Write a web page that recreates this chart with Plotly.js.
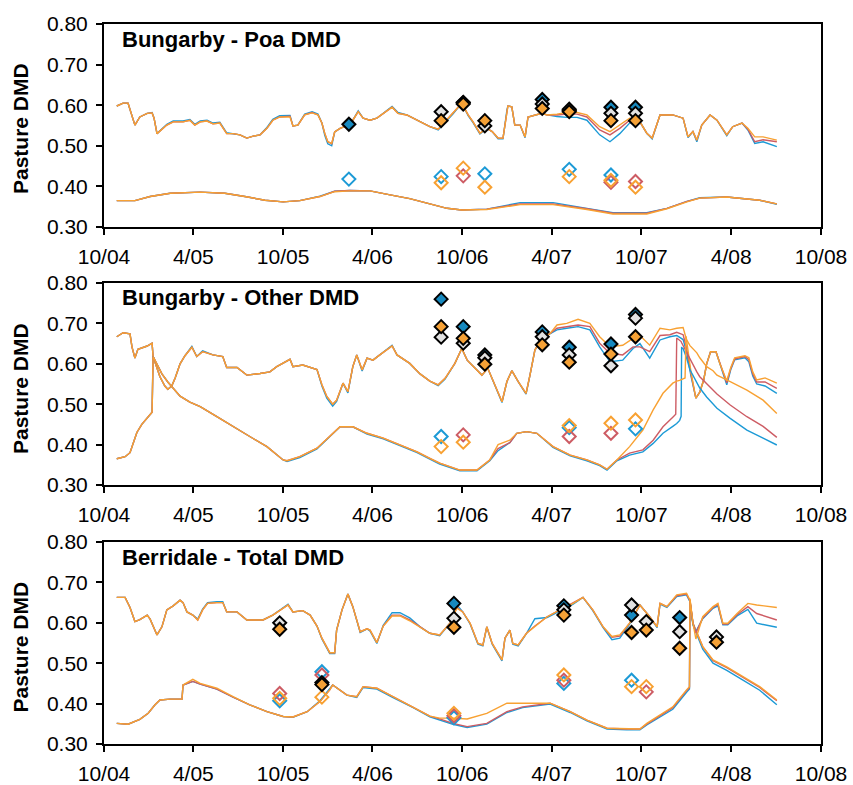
<!DOCTYPE html>
<html>
<head>
<meta charset="utf-8">
<script src="https://cdn.plot.ly/plotly-3.0.1.min.js"></script>
<style>
html,body{margin:0;padding:0;background:#fff;}
#chart{width:853px;height:785px;}
</style>
</head>
<body>
<div id="chart"></div>
<script>
// ---------- axis ticks ----------
const tickVals = ['2004-10-01','2005-04-01','2005-10-01','2006-04-01','2006-10-01','2007-04-01','2007-10-01','2008-04-01','2008-10-01'];
const tickText = ['10/04','4/05','10/05','4/06','10/06','4/07','10/07','4/08','10/08'];
const panelTitles = ['Bungarby - Poa DMD','Bungarby - Other DMD','Berridale - Total DMD'];
const yTitle = 'Pasture DMD';

// ---------- Panel 1 : Bungarby - Poa, upper band ----------
const p1UpDates = ['2004-10-27','2004-11-09','2004-11-19','2004-11-27','2004-12-03','2004-12-13','2004-12-28','2005-01-07','2005-01-11','2005-01-17',
'2005-01-29','2005-02-06','2005-02-19','2005-03-11','2005-03-25','2005-04-04','2005-04-15','2005-04-29','2005-05-11','2005-05-25',
'2005-06-08','2005-06-21','2005-07-05','2005-07-19','2005-08-01','2005-08-15','2005-08-29','2005-09-10','2005-09-24','2005-10-15',
'2005-10-21','2005-10-31','2005-11-14','2005-11-29','2005-12-11','2005-12-19','2005-12-25','2005-12-31','2006-01-08','2006-01-14',
'2006-01-25','2006-02-10','2006-02-20','2006-03-03','2006-03-13','2006-03-27','2006-04-10','2006-04-23','2006-05-11','2006-05-23',
'2006-06-10','2006-07-01','2006-07-27','2006-08-13','2006-09-12','2006-09-30','2006-10-13','2006-10-23','2006-11-06','2006-11-20',
'2006-12-01','2006-12-13','2006-12-23','2006-12-31','2007-01-02','2007-01-10','2007-01-16','2007-01-27','2007-02-06','2007-02-12',
'2007-02-26','2007-03-12','2007-03-23','2007-04-12','2007-05-02','2007-05-23','2007-06-12','2007-07-08','2007-07-29','2007-08-18',
'2007-09-07','2007-09-28','2007-10-12','2007-10-23','2007-11-08','2007-12-04','2007-12-25','2008-01-04','2008-01-14','2008-01-22',
'2008-02-01','2008-02-18','2008-03-03','2008-03-23','2008-04-04','2008-04-23','2008-05-05','2008-05-19','2008-06-05','2008-07-03'];
const p1UpOrange = [0.598,0.605,0.605,0.576,0.551,0.571,0.580,0.581,0.568,0.530,
0.543,0.551,0.559,0.559,0.563,0.551,0.559,0.561,0.554,0.556,
0.530,0.530,0.527,0.519,0.524,0.527,0.543,0.563,0.571,0.571,
0.549,0.551,0.576,0.581,0.576,0.556,0.530,0.510,0.506,0.534,
0.543,0.551,0.563,0.584,0.568,0.563,0.568,0.580,0.595,0.580,
0.576,0.563,0.547,0.541,0.580,0.605,0.576,0.559,0.531,0.543,
0.535,0.519,0.519,0.588,0.598,0.596,0.551,0.551,0.522,0.571,
0.576,0.580,0.576,0.578,0.582,0.582,0.576,0.547,0.535,0.551,
0.568,0.559,0.531,0.519,0.576,0.576,0.568,0.522,0.535,0.514,
0.551,0.576,0.563,0.527,0.547,0.556,0.543,0.522,0.522,0.514];
const p1UpRed = [0.598,0.605,0.605,0.576,0.551,0.571,0.580,0.581,0.568,0.530,
0.543,0.551,0.559,0.559,0.563,0.551,0.559,0.561,0.554,0.556,
0.530,0.530,0.527,0.519,0.524,0.527,0.543,0.563,0.571,0.573,
0.549,0.551,0.576,0.582,0.576,0.556,0.530,0.510,0.505,0.534,
0.543,0.551,0.563,0.584,0.568,0.563,0.568,0.580,0.595,0.580,
0.576,0.563,0.547,0.541,0.580,0.605,0.576,0.559,0.531,0.543,
0.535,0.519,0.519,0.588,0.598,0.596,0.551,0.551,0.522,0.571,
0.576,0.580,0.576,0.576,0.578,0.578,0.571,0.539,0.527,0.543,
0.563,0.559,0.531,0.519,0.576,0.576,0.568,0.522,0.535,0.514,
0.551,0.576,0.563,0.527,0.547,0.556,0.541,0.510,0.515,0.510];
const p1UpBlue = [0.598,0.605,0.605,0.576,0.551,0.571,0.580,0.582,0.568,0.530,
0.543,0.553,0.561,0.561,0.565,0.553,0.561,0.563,0.556,0.558,
0.532,0.530,0.527,0.519,0.524,0.527,0.545,0.565,0.574,0.575,
0.549,0.551,0.578,0.584,0.578,0.556,0.525,0.505,0.500,0.534,
0.543,0.551,0.563,0.586,0.568,0.563,0.568,0.580,0.597,0.582,
0.576,0.563,0.547,0.539,0.578,0.605,0.574,0.557,0.529,0.543,
0.535,0.517,0.517,0.588,0.598,0.596,0.551,0.551,0.520,0.571,
0.576,0.580,0.576,0.572,0.570,0.570,0.563,0.527,0.510,0.530,
0.556,0.559,0.531,0.517,0.576,0.576,0.568,0.520,0.535,0.510,
0.551,0.576,0.563,0.525,0.547,0.556,0.539,0.506,0.510,0.498];

// ---------- Panel 1 : lower band ----------
const p1LowDates = ['2004-10-27','2004-12-03','2005-01-03','2005-02-13','2005-04-15','2005-06-04','2005-07-15','2005-08-25','2005-10-01','2005-11-04',
'2005-12-15','2006-01-14','2006-02-14','2006-03-27','2006-05-07','2006-06-16','2006-07-27','2006-08-31','2006-09-30','2006-11-20',
'2007-01-27','2007-04-04','2007-06-12','2007-08-04','2007-10-12','2007-11-22','2008-01-02','2008-01-28','2008-03-23','2008-04-19',
'2008-05-29','2008-07-03'];
const p1LowOrange = [0.365,0.365,0.375,0.383,0.386,0.383,0.375,0.366,0.362,0.365,
0.375,0.387,0.389,0.389,0.379,0.370,0.357,0.346,0.342,0.343,
0.355,0.355,0.343,0.332,0.332,0.345,0.362,0.371,0.374,0.371,
0.366,0.357];
const p1LowRed = [0.365,0.365,0.375,0.383,0.386,0.383,0.375,0.366,0.362,0.365,
0.375,0.388,0.390,0.389,0.379,0.370,0.357,0.346,0.342,0.344,
0.357,0.357,0.345,0.334,0.334,0.346,0.363,0.371,0.374,0.371,
0.366,0.357];
const p1LowBlue = [0.365,0.365,0.375,0.383,0.386,0.383,0.375,0.366,0.362,0.365,
0.376,0.388,0.390,0.389,0.379,0.370,0.357,0.346,0.342,0.344,
0.360,0.360,0.346,0.335,0.335,0.346,0.363,0.372,0.374,0.371,
0.366,0.356];

// ---------- Panel 1 : observations ----------
const p1ObsDates = ['2006-02-12','2006-08-19','2006-10-03','2006-11-16','2007-03-13','2007-05-07','2007-07-31','2007-09-19'];
const p1FillBlue   = [0.553,null,0.606,null,0.614,0.587,0.595,0.595];
const p1FillGrey   = [null,0.584,0.607,0.549,0.603,0.590,0.580,0.580];
const p1FillOrange = [null,0.562,0.603,0.562,0.592,0.584,0.562,0.562];
const p1OpenBlue   = [0.418,0.424,null,0.431,null,0.442,0.428,null];
const p1OpenRed    = [null,null,0.426,null,null,null,0.410,0.412];
const p1OpenOrange = [null,0.409,0.445,0.398,null,0.424,0.415,0.398];

// ---------- Panel 2 : Bungarby - Other, upper band ----------
const p2UpDates = ['2004-10-27','2004-11-09','2004-11-23','2004-11-27','2004-12-03','2004-12-09','2004-12-28','2005-01-07','2005-01-09','2005-01-15',
'2005-01-23','2005-02-02','2005-02-08','2005-02-16','2005-02-23','2005-03-05','2005-03-15','2005-03-29','2005-04-08','2005-04-20',
'2005-05-11','2005-05-31','2005-06-08','2005-06-29','2005-07-19','2005-08-15','2005-09-04','2005-09-18','2005-10-15','2005-10-21',
'2005-11-10','2005-12-09','2005-12-19','2005-12-29','2006-01-10','2006-01-18','2006-01-31','2006-02-10','2006-02-20','2006-02-28',
'2006-03-11','2006-03-21','2006-04-02','2006-04-16','2006-05-11','2006-05-21','2006-06-16','2006-07-07','2006-07-27','2006-08-13',
'2006-08-27','2006-09-16','2006-09-30','2006-10-11','2006-10-27','2006-11-10','2006-11-22','2006-12-21','2006-12-31','2007-01-10',
'2007-01-23','2007-02-08','2007-02-16','2007-02-26','2007-03-12','2007-03-29','2007-04-12','2007-05-02','2007-05-25','2007-06-18',
'2007-07-08','2007-07-29','2007-08-24','2007-09-14','2007-09-28','2007-10-18','2007-11-08','2007-11-28','2007-12-12','2007-12-25',
'2008-01-01','2008-01-10','2008-01-20','2008-01-28','2008-02-05','2008-02-11','2008-02-19','2008-03-01','2008-03-09','2008-03-17',
'2008-03-23','2008-03-31','2008-04-08','2008-04-29','2008-05-07','2008-05-15','2008-05-23','2008-06-09','2008-07-03'];
const p2UpOrange = [0.667,0.677,0.674,0.642,0.614,0.636,0.644,0.651,0.618,0.594,
0.568,0.545,0.537,0.545,0.565,0.600,0.620,0.641,0.618,0.630,
0.622,0.618,0.591,0.591,0.572,0.576,0.580,0.593,0.611,0.593,
0.597,0.586,0.548,0.519,0.500,0.510,0.552,0.531,0.593,0.622,
0.585,0.614,0.609,0.622,0.644,0.622,0.601,0.575,0.557,0.548,
0.564,0.601,0.638,0.609,0.589,0.572,0.589,0.506,0.556,0.583,
0.556,0.527,0.572,0.634,0.663,0.675,0.696,0.700,0.710,0.700,
0.667,0.642,0.646,0.663,0.670,0.646,0.688,0.684,0.688,0.690,
0.659,0.580,0.515,0.530,0.560,0.600,0.630,0.630,0.600,0.575,
0.558,0.590,0.615,0.620,0.615,0.580,0.560,0.565,0.552];
const p2UpRed = [0.667,0.677,0.674,0.642,0.614,0.636,0.644,0.651,0.618,0.594,
0.568,0.545,0.537,0.545,0.565,0.600,0.620,0.641,0.618,0.630,
0.622,0.618,0.591,0.591,0.572,0.576,0.580,0.593,0.611,0.593,
0.597,0.586,0.548,0.519,0.500,0.510,0.552,0.531,0.593,0.622,
0.585,0.614,0.609,0.622,0.644,0.622,0.601,0.575,0.557,0.548,
0.564,0.601,0.638,0.609,0.589,0.572,0.589,0.506,0.556,0.583,
0.556,0.527,0.572,0.634,0.663,0.675,0.688,0.692,0.696,0.692,
0.651,0.626,0.622,0.642,0.642,0.630,0.670,0.672,0.678,0.672,
0.640,0.575,0.515,0.530,0.560,0.600,0.630,0.630,0.600,0.572,
0.553,0.588,0.612,0.618,0.610,0.575,0.555,0.555,0.539];
const p2UpBlue = [0.667,0.677,0.674,0.642,0.614,0.636,0.644,0.651,0.618,0.594,
0.568,0.545,0.537,0.545,0.565,0.600,0.620,0.643,0.618,0.632,
0.622,0.618,0.591,0.591,0.572,0.576,0.580,0.593,0.611,0.593,
0.597,0.586,0.545,0.515,0.495,0.507,0.552,0.528,0.593,0.622,
0.582,0.614,0.609,0.622,0.646,0.622,0.601,0.575,0.557,0.546,
0.562,0.601,0.638,0.609,0.589,0.572,0.589,0.504,0.556,0.583,
0.556,0.525,0.572,0.634,0.663,0.675,0.684,0.688,0.692,0.684,
0.642,0.605,0.609,0.638,0.650,0.614,0.659,0.667,0.670,0.660,
0.630,0.570,0.515,0.530,0.560,0.600,0.630,0.630,0.598,0.568,
0.548,0.585,0.610,0.615,0.605,0.570,0.550,0.545,0.527];

// ---------- Panel 2 : lower band ----------
const p2LowDates = ['2004-10-27','2004-11-13','2004-11-23','2004-11-29','2004-12-07','2004-12-17','2004-12-30','2005-01-07','2005-01-09','2005-01-17',
'2005-01-27','2005-02-08','2005-02-19','2005-03-05','2005-03-25','2005-04-15','2005-05-19','2005-06-21','2005-07-25','2005-08-29',
'2005-10-01','2005-10-09','2005-11-04','2005-12-09','2006-01-04','2006-01-25','2006-02-20','2006-03-21','2006-04-23','2006-05-27',
'2006-07-01','2006-07-27','2006-08-16','2006-09-26','2006-10-31','2006-11-26','2006-12-13','2007-01-06','2007-01-20','2007-02-09',
'2007-03-02','2007-04-04','2007-05-09','2007-06-12','2007-07-08','2007-07-23','2007-08-12','2007-09-07','2007-10-04','2007-10-25',
'2007-11-14','2007-12-04','2007-12-10','2007-12-12','2007-12-18','2007-12-21','2007-12-22','2007-12-25','2007-12-29','2007-12-31',
'2008-01-01','2008-01-08','2008-01-22','2008-01-28','2008-02-11','2008-02-24','2008-03-03','2008-03-30','2008-05-03','2008-06-05',
'2008-07-03'];
const p2LowOrange = [0.365,0.370,0.380,0.400,0.430,0.450,0.470,0.480,0.618,0.600,
0.575,0.555,0.540,0.520,0.505,0.494,0.469,0.444,0.420,0.395,
0.362,0.360,0.370,0.391,0.420,0.444,0.444,0.428,0.416,0.400,
0.382,0.366,0.354,0.337,0.337,0.362,0.400,0.411,0.428,0.432,
0.428,0.395,0.374,0.362,0.350,0.339,0.362,0.395,0.436,0.486,
0.527,0.552,0.556,0.557,0.559,0.561,0.562,0.563,0.565,0.668,
0.660,0.645,0.627,0.615,0.593,0.583,0.572,0.556,0.535,0.510,
0.477];
const p2LowRed = [0.365,0.370,0.380,0.400,0.430,0.450,0.470,0.480,0.618,0.600,
0.575,0.555,0.540,0.520,0.505,0.494,0.469,0.444,0.420,0.395,
0.362,0.360,0.370,0.391,0.420,0.444,0.444,0.428,0.416,0.400,
0.382,0.366,0.354,0.337,0.337,0.362,0.390,0.405,0.428,0.432,
0.428,0.395,0.374,0.362,0.350,0.339,0.362,0.379,0.387,0.411,
0.444,0.468,0.475,0.664,0.659,0.655,0.652,0.645,0.633,0.628,
0.625,0.610,0.580,0.568,0.550,0.535,0.525,0.498,0.469,0.445,
0.418];
const p2LowBlue = [0.365,0.370,0.380,0.400,0.430,0.450,0.470,0.480,0.618,0.600,
0.575,0.555,0.540,0.520,0.505,0.494,0.469,0.444,0.420,0.395,
0.362,0.358,0.368,0.389,0.420,0.444,0.444,0.426,0.414,0.398,
0.380,0.364,0.352,0.335,0.335,0.360,0.385,0.405,0.428,0.432,
0.428,0.393,0.372,0.360,0.348,0.337,0.360,0.374,0.382,0.403,
0.428,0.445,0.450,0.452,0.460,0.470,0.640,0.638,0.625,0.620,
0.615,0.585,0.555,0.540,0.518,0.500,0.490,0.465,0.436,0.416,
0.399];

// ---------- Panel 2 : observations ----------
const p2ObsDates = ['2006-08-19','2006-10-03','2006-11-16','2007-03-13','2007-05-07','2007-07-31','2007-09-19'];
const p2FillBlue   = [0.760,0.692,0.622,0.679,0.641,0.649,0.722];
const p2FillGrey   = [0.666,0.651,0.615,0.667,0.622,0.595,0.713];
const p2FillOrange = [0.692,0.663,0.599,0.647,0.604,0.624,0.667];
const p2OpenBlue   = [0.420,null,null,null,0.442,null,0.439];
const p2OpenRed    = [null,0.424,null,null,0.420,0.428,null];
const p2OpenOrange = [0.395,0.406,null,null,0.447,0.453,0.461];

// ---------- Panel 3 : Berridale - Total, upper band ----------
const p3UpDates = ['2004-10-27','2004-11-13','2004-11-23','2004-12-03','2004-12-13','2004-12-28','2005-01-03','2005-01-17','2005-01-27','2005-02-06',
'2005-02-19','2005-03-05','2005-03-11','2005-03-19','2005-03-31','2005-04-10','2005-04-20','2005-04-30','2005-05-19','2005-05-31',
'2005-06-08','2005-06-29','2005-07-19','2005-08-21','2005-09-10','2005-09-28','2005-10-11','2005-10-21','2005-11-10','2005-11-25',
'2005-12-09','2005-12-19','2005-12-29','2006-01-04','2006-01-14','2006-01-18','2006-01-29','2006-02-10','2006-02-20','2006-03-07',
'2006-03-21','2006-03-27','2006-04-10','2006-04-23','2006-05-11','2006-05-27','2006-06-16','2006-07-07','2006-07-27','2006-08-16',
'2006-09-06','2006-09-20','2006-10-02','2006-10-17','2006-11-02','2006-11-12','2006-11-20','2006-12-01','2006-12-11','2006-12-21',
'2006-12-27','2007-01-06','2007-01-12','2007-01-23','2007-02-09','2007-02-26','2007-03-23','2007-04-18','2007-05-15','2007-06-04',
'2007-06-24','2007-07-15','2007-08-02','2007-08-18','2007-09-07','2007-09-28','2007-10-18','2007-11-02','2007-11-08','2007-11-22',
'2007-12-12','2008-01-01','2008-01-08','2008-01-14','2008-02-03','2008-02-24','2008-03-23','2008-04-25','2008-05-29','2008-07-03'];
const p3UpOrange = [0.663,0.663,0.638,0.603,0.608,0.619,0.609,0.570,0.590,0.632,
0.642,0.656,0.650,0.627,0.619,0.607,0.632,0.648,0.650,0.650,
0.627,0.627,0.607,0.607,0.619,0.633,0.644,0.627,0.630,0.619,
0.592,0.562,0.537,0.526,0.526,0.582,0.632,0.671,0.640,0.578,
0.585,0.582,0.551,0.592,0.617,0.617,0.605,0.590,0.574,0.570,
0.599,0.636,0.627,0.599,0.549,0.545,0.590,0.549,0.528,0.508,
0.562,0.582,0.549,0.545,0.574,0.590,0.615,0.632,0.648,0.663,
0.632,0.590,0.566,0.570,0.599,0.644,0.615,0.590,0.648,0.640,
0.669,0.673,0.656,0.599,0.541,0.508,0.491,0.467,0.442,0.409];
const p3UpRed = [0.663,0.663,0.638,0.603,0.608,0.619,0.609,0.570,0.590,0.632,
0.642,0.656,0.650,0.627,0.619,0.607,0.632,0.648,0.650,0.650,
0.627,0.627,0.607,0.607,0.619,0.633,0.644,0.627,0.630,0.619,
0.592,0.562,0.537,0.526,0.526,0.582,0.632,0.671,0.640,0.578,
0.585,0.582,0.551,0.592,0.619,0.619,0.607,0.590,0.574,0.570,
0.599,0.638,0.627,0.599,0.549,0.545,0.590,0.549,0.528,0.508,
0.562,0.582,0.549,0.545,0.574,0.592,0.615,0.632,0.648,0.663,
0.632,0.590,0.564,0.567,0.599,0.644,0.615,0.590,0.648,0.640,
0.667,0.671,0.654,0.599,0.541,0.506,0.489,0.465,0.440,0.407];
const p3UpBlue = [0.663,0.663,0.638,0.603,0.608,0.619,0.609,0.570,0.590,0.632,
0.642,0.656,0.650,0.627,0.619,0.609,0.634,0.650,0.652,0.652,
0.627,0.627,0.607,0.607,0.619,0.635,0.646,0.627,0.630,0.619,
0.592,0.560,0.535,0.524,0.524,0.582,0.632,0.671,0.640,0.576,
0.585,0.580,0.549,0.594,0.625,0.625,0.612,0.590,0.574,0.568,
0.599,0.645,0.627,0.597,0.547,0.543,0.590,0.547,0.526,0.506,
0.562,0.582,0.547,0.543,0.574,0.610,0.613,0.630,0.646,0.663,
0.630,0.588,0.558,0.562,0.597,0.644,0.615,0.588,0.646,0.638,
0.665,0.669,0.652,0.595,0.535,0.500,0.482,0.458,0.433,0.397];

// ---------- Panel 3 : lower band ----------
const p3LowDates = ['2004-10-27','2004-11-19','2004-12-13','2004-12-30','2005-01-13','2005-01-23','2005-02-13','2005-03-09','2005-03-11','2005-03-31',
'2005-04-15','2005-05-19','2005-06-21','2005-07-25','2005-08-29','2005-10-01','2005-10-21','2005-11-19','2005-12-15','2006-01-04',
'2006-01-10','2006-02-08','2006-02-28','2006-03-13','2006-04-10','2006-05-13','2006-06-23','2006-07-27','2006-08-16','2006-09-12',
'2006-10-11','2006-11-20','2006-12-31','2007-02-01','2007-03-29','2007-05-09','2007-06-12','2007-07-23','2007-09-01','2007-09-28',
'2007-10-12','2007-11-08','2007-12-04','2008-01-01','2008-01-07','2008-01-08','2008-01-14','2008-01-20','2008-02-03','2008-02-24',
'2008-03-05','2008-03-15','2008-03-25','2008-04-13','2008-05-05','2008-05-23','2008-07-03'];
const p3LowOrange = [0.351,0.349,0.361,0.376,0.397,0.409,0.411,0.411,0.446,0.460,
0.450,0.438,0.417,0.397,0.380,0.368,0.367,0.380,0.405,0.434,
0.446,0.421,0.417,0.442,0.438,0.417,0.392,0.369,0.364,0.364,
0.362,0.376,0.401,0.401,0.401,0.380,0.359,0.339,0.337,0.337,
0.351,0.372,0.392,0.434,0.442,0.660,0.600,0.560,0.615,0.640,
0.648,0.599,0.599,0.623,0.648,0.644,0.638];
const p3LowRed = [0.351,0.349,0.361,0.376,0.397,0.409,0.411,0.411,0.446,0.455,
0.448,0.436,0.416,0.397,0.380,0.368,0.367,0.380,0.405,0.434,
0.446,0.421,0.417,0.442,0.438,0.417,0.392,0.369,0.362,0.351,
0.343,0.351,0.380,0.392,0.401,0.380,0.359,0.339,0.337,0.337,
0.349,0.370,0.390,0.432,0.440,0.656,0.600,0.575,0.612,0.638,
0.645,0.597,0.597,0.620,0.640,0.623,0.607];
const p3LowBlue = [0.351,0.349,0.361,0.376,0.397,0.409,0.411,0.411,0.446,0.455,
0.448,0.436,0.416,0.397,0.380,0.368,0.366,0.380,0.407,0.436,
0.446,0.421,0.415,0.440,0.436,0.415,0.390,0.367,0.360,0.349,
0.341,0.349,0.378,0.390,0.399,0.378,0.357,0.337,0.335,0.335,
0.347,0.367,0.386,0.428,0.436,0.652,0.598,0.578,0.610,0.636,
0.642,0.595,0.595,0.617,0.633,0.599,0.589];

// ---------- Panel 3 : observations ----------
const p3ObsDates = ['2005-09-24','2005-12-19','2006-09-14','2007-04-26','2007-09-11','2007-10-11','2007-12-18','2008-03-02'];
const p3FillBlue   = [null,null,0.648,0.642,0.619,null,0.613,null];
const p3FillGrey   = [0.600,0.452,0.611,0.632,0.644,0.603,0.578,0.565];
const p3FillOrange = [0.584,0.447,0.589,0.619,0.576,0.582,0.537,0.552];
const p3OpenBlue   = [0.407,0.479,0.365,0.450,0.458,null,null,null];
const p3OpenRed    = [0.425,0.471,0.370,0.458,null,0.429,null,null];
const p3OpenOrange = [0.413,0.416,0.376,0.471,0.442,0.442,null,null];

// ---------- styles ----------
const C = {blue:'#1C9AD6', red:'#CD5C64', orange:'#F8A132', fillBlue:'#1789BF', fillGrey:'#E2E2E2', fillOrange:'#F5A136'};
const FONT = 'Arial, "Liberation Sans", Helvetica, sans-serif';

const panels = [
  {xa:'x', ya:'y', bands:[[p1UpDates,p1UpBlue,p1UpRed,p1UpOrange],[p1LowDates,p1LowBlue,p1LowRed,p1LowOrange]],
   obs:[p1ObsDates,p1FillBlue,p1FillGrey,p1FillOrange,p1OpenBlue,p1OpenRed,p1OpenOrange]},
  {xa:'x2', ya:'y2', bands:[[p2UpDates,p2UpBlue,p2UpRed,p2UpOrange],[p2LowDates,p2LowBlue,p2LowRed,p2LowOrange]],
   obs:[p2ObsDates,p2FillBlue,p2FillGrey,p2FillOrange,p2OpenBlue,p2OpenRed,p2OpenOrange]},
  {xa:'x3', ya:'y3', bands:[[p3UpDates,p3UpBlue,p3UpRed,p3UpOrange],[p3LowDates,p3LowBlue,p3LowRed,p3LowOrange]],
   obs:[p3ObsDates,p3FillBlue,p3FillGrey,p3FillOrange,p3OpenBlue,p3OpenRed,p3OpenOrange]}
];

const traces = [];
panels.forEach(p => {
  p.bands.forEach(b => {
    [[b[1],C.blue],[b[2],C.red],[b[3],C.orange]].forEach(([vals,col]) => {
      traces.push({type:'scatter', mode:'lines', x:b[0], y:vals, xaxis:p.xa, yaxis:p.ya,
        line:{color:col, width:1.4}, hoverinfo:'x+y'});
    });
  });
  const o = p.obs;
  [[o[4],C.blue],[o[5],C.red],[o[6],C.orange]].forEach(([vals,col]) => {
    traces.push({type:'scatter', mode:'markers', x:o[0], y:vals, xaxis:p.xa, yaxis:p.ya,
      marker:{symbol:'diamond-open', size:10, color:col, line:{color:col, width:2}}});
  });
  [[o[1],C.fillBlue],[o[2],C.fillGrey],[o[3],C.fillOrange]].forEach(([vals,col]) => {
    traces.push({type:'scatter', mode:'markers', x:o[0], y:vals, xaxis:p.xa, yaxis:p.ya,
      marker:{symbol:'diamond', size:10, color:col, line:{color:'#000000', width:2}}});
  });
});

const H = 785, T = 24, B = 41, plotH = H - T - B;
function dom(topPx, botPx){ return [(H - B - botPx)/plotH, (H - B - topPx)/plotH]; }
const doms = [dom(24,227), dom(283,485), dom(542,744)];

function xax(anchor){
  return {type:'date', anchor:anchor, range:['2004-10-01','2008-10-01'], tickmode:'array',
    tickvals:tickVals, ticktext:tickText, showgrid:false, zeroline:false, showline:true, linecolor:'#000',
    linewidth:2, mirror:true, ticks:'outside', ticklen:6, tickwidth:1.5, tickcolor:'#000',
    tickfont:{family:FONT, size:21, color:'#000'}, ticklabelstandoff:4, fixedrange:true};
}
function yax(anchor, d){
  return {anchor:anchor, domain:d, range:[0.3,0.8], tickmode:'array', tickvals:[0.3,0.4,0.5,0.6,0.7,0.8],
    ticktext:['0.30','0.40','0.50','0.60','0.70','0.80'], showgrid:false, zeroline:false, showline:true,
    linecolor:'#000', linewidth:2, mirror:true, ticks:'outside', ticklen:6, tickwidth:1.5, tickcolor:'#000',
    tickfont:{family:FONT, size:21, color:'#000'}, ticklabelstandoff:4, fixedrange:true};
}

const annotations = [];
const titleY = [39, 297.5, 557];
const ylabY = [129, 389, 647.5];
panelTitles.forEach((t,i) => {
  annotations.push({xref:'paper', yref:'paper', x:(120-104)/717, y:(H-B-titleY[i])/plotH, xanchor:'left', yanchor:'middle',
    text:'<b>'+t+'</b>', showarrow:false, font:{family:FONT, size:22, color:'#000'}});
  annotations.push({xref:'paper', yref:'paper', x:(20-104)/717, y:(H-B-ylabY[i])/plotH, xanchor:'center', yanchor:'middle',
    text:'<b>'+yTitle+'</b>', textangle:-90, showarrow:false, font:{family:FONT, size:21, color:'#000'}});
});

const layout = {
  width:853, height:785, margin:{l:104, r:32, t:T, b:B}, paper_bgcolor:'#fff', plot_bgcolor:'#fff',
  showlegend:false, hovermode:'closest',
  xaxis:{...xax('y'), domain:[0,1]}, yaxis:yax('x', doms[0]),
  xaxis2:{...xax('y2'), domain:[0,1]}, yaxis2:yax('x2', doms[1]),
  xaxis3:{...xax('y3'), domain:[0,1]}, yaxis3:yax('x3', doms[2]),
  annotations:annotations
};

Plotly.newPlot('chart', traces, layout, {displayModeBar:false, staticPlot:false});
</script>
</body>
</html>
